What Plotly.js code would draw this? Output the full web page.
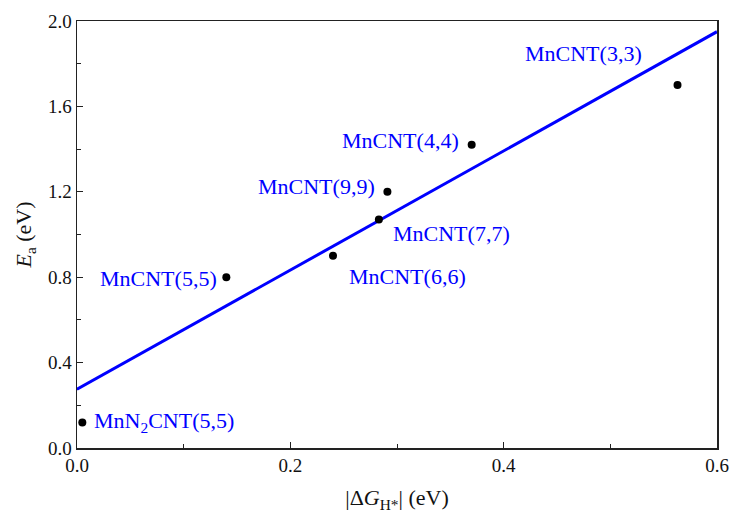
<!DOCTYPE html>
<html>
<head>
<meta charset="utf-8">
<script src="https://cdn.plot.ly/plotly-3.0.1.min.js"></script>
<style>
  html, body { margin: 0; padding: 0; background: #fff; }
  #chart { width: 734px; height: 517px; }
</style>
</head>
<body>
<div id="chart"></div>
<script>
// Catalyst labels with |ΔG_H*| and activation energy E_a (both in eV)
const names = ["MnN<sub>2</sub>CNT(5,5)", "MnCNT(5,5)", "MnCNT(6,6)", "MnCNT(7,7)", "MnCNT(9,9)", "MnCNT(4,4)", "MnCNT(3,3)"];
const dG = [0.005, 0.140, 0.240, 0.283, 0.291, 0.370, 0.563];
const Ea = [0.12, 0.80, 0.90, 1.07, 1.20, 1.42, 1.70];

// Linear fit line across the x range
const fitX = [0, 0.6];
const fitY = [0.275, 1.95];

// Label placement relative to each point (anchor side, pixel offsets)
const labelSide = ["left", "right", "left", "left", "right", "right", "right"];
const labelDx = [10, -7, 14, 12, -10, -11, -34];
const labelDy = [0, -1, -21, -14, 5, 4, 32];

const font = "Liberation Serif";

const traces = [
  {
    x: fitX, y: fitY, mode: "lines", type: "scatter",
    line: { color: "#0000ff", width: 3 }, hoverinfo: "skip"
  },
  {
    x: dG, y: Ea, mode: "markers", type: "scatter",
    marker: { color: "#000", size: 8 }
  }
];

const annotations = names.map((n, i) => ({
  x: dG[i], y: Ea[i], xref: "x", yref: "y",
  text: n, showarrow: false,
  xanchor: labelSide[i], yanchor: "middle",
  xshift: labelDx[i], yshift: labelDy[i],
  font: { family: font, size: 22, color: "#0000ff" }
}));

const axisCommon = {
  showgrid: false, zeroline: false,
  showline: true, linecolor: "#222", linewidth: 1.5, mirror: true,
  ticks: "inside", ticklen: 6, tickwidth: 1.2, tickcolor: "#222",
  tickformat: ".1f",
  tickfont: { family: font, size: 19, color: "#111" }
};

const layout = {
  width: 734, height: 517,
  margin: { l: 77, r: 17, t: 21, b: 69 },
  paper_bgcolor: "#fff", plot_bgcolor: "#fff",
  showlegend: false,
  font: { family: font },
  xaxis: Object.assign({}, axisCommon, {
    range: [0, 0.6], dtick: 0.2, tick0: 0,
    minor: { ticks: "inside", dtick: 0.1, ticklen: 4, tickcolor: "#222", tickwidth: 1 },
    title: {
      text: "|Δ<i>G</i><sub>H*</sub>| (eV)",
      font: { family: font, size: 22, color: "#111" },
      standoff: 14
    }
  }),
  yaxis: Object.assign({}, axisCommon, {
    range: [0, 2.0], dtick: 0.4, tick0: 0,
    minor: { ticks: "inside", dtick: 0.2, ticklen: 4, tickcolor: "#222", tickwidth: 1 },
    title: {
      text: "<i>E</i><sub>a</sub> (eV)",
      font: { family: font, size: 22, color: "#111" },
      standoff: 10
    }
  }),
  annotations: annotations
};

Plotly.newPlot("chart", traces, layout, { staticPlot: true, displayModeBar: false });
</script>
</body>
</html>
